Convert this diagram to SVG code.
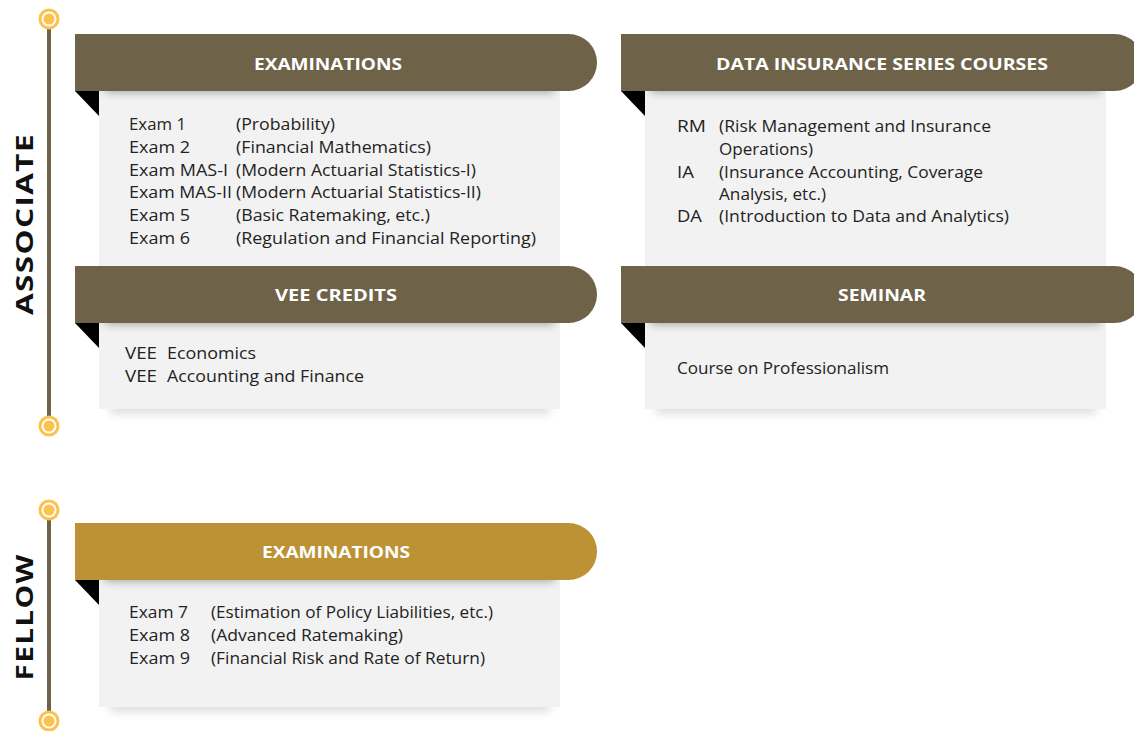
<svg xmlns="http://www.w3.org/2000/svg" width="1134" height="731" viewBox="0 0 1134 731">
<defs>
<style>
.hdr{fill:#6e6249}
.gold{fill:#bd9235}
.box{fill:#f2f2f2}
.fold{fill:#000}
.ht{font-family:"Open Sans","Liberation Sans",sans-serif;font-weight:700;font-size:16.5px;fill:#fff;text-anchor:middle}
.bt{font-family:"Open Sans","Liberation Sans",sans-serif;font-size:15.5px;fill:#222}
.side{font-family:"Open Sans","Liberation Sans",sans-serif;font-weight:700;font-size:23px;fill:#111;text-anchor:middle;letter-spacing:1px}
.ring{fill:#fcc24c}
.dot{fill:#fcc24c}
</style>
<filter id="blur" x="-20%" y="-100%" width="140%" height="300%"><feGaussianBlur stdDeviation="5"/></filter>
<filter id="blur2" x="-20%" y="-100%" width="140%" height="300%"><feGaussianBlur stdDeviation="5"/></filter>
<clipPath id="c1"><rect x="99" y="91" width="461" height="175"/></clipPath>
<clipPath id="c2"><rect x="645" y="91" width="461" height="175"/></clipPath>
<clipPath id="c3"><rect x="99" y="323" width="461" height="86"/></clipPath>
<clipPath id="c4"><rect x="645" y="323" width="461" height="86"/></clipPath>
<clipPath id="c5"><rect x="99" y="580" width="461" height="127"/></clipPath>
<clipPath id="cb1"><rect x="90" y="409" width="480" height="20"/></clipPath>
<clipPath id="cb2"><rect x="636" y="409" width="480" height="20"/></clipPath>
<clipPath id="cb3"><rect x="90" y="707" width="480" height="20"/></clipPath>
</defs>
<rect width="1134" height="731" fill="#fff"/>

<g id="connectors">
<line x1="49" y1="29" x2="49" y2="416" stroke="#6e6249" stroke-width="4"/>
<line x1="49" y1="520" x2="49" y2="711" stroke="#6e6249" stroke-width="4"/>
</g>

<g id="timeline-markers">
<g><circle cx="49" cy="19" r="10.5" class="ring"/><circle cx="49" cy="19" r="7.5" fill="#fff"/><circle cx="49" cy="19" r="5.5" class="dot"/></g>
<g><circle cx="49" cy="426" r="10.5" class="ring"/><circle cx="49" cy="426" r="7.5" fill="#fff"/><circle cx="49" cy="426" r="5.5" class="dot"/></g>
<g><circle cx="49" cy="510" r="10.5" class="ring"/><circle cx="49" cy="510" r="7.5" fill="#fff"/><circle cx="49" cy="510" r="5.5" class="dot"/></g>
<g><circle cx="49" cy="721" r="10.5" class="ring"/><circle cx="49" cy="721" r="7.5" fill="#fff"/><circle cx="49" cy="721" r="5.5" class="dot"/></g>
</g>

<g id="label-associate"><text class="side" transform="translate(33,224) rotate(-90)" textLength="182" lengthAdjust="spacingAndGlyphs">ASSOCIATE</text></g>
<g id="label-fellow"><text class="side" transform="translate(33,617) rotate(-90)" textLength="127" lengthAdjust="spacingAndGlyphs">FELLOW</text></g>

<g id="assoc-exams">
<rect x="99" y="91" width="461" height="180" class="box"/>
<rect x="105" y="80" width="449" height="12" fill="#000" opacity="0.35" filter="url(#blur)" clip-path="url(#c1)"/>
<path d="M75 34 H568.5 A28.5 28.5 0 0 1 568.5 91 H75 Z" class="hdr"/>
<polygon points="75,91 99,91 99,116" class="fold"/>
<text class="ht" x="328" y="70" textLength="148" lengthAdjust="spacingAndGlyphs">EXAMINATIONS</text>
<g class="bt">
<text x="129" y="130" textLength="57" lengthAdjust="spacingAndGlyphs">Exam 1</text><text x="236" y="130" textLength="99" lengthAdjust="spacingAndGlyphs">(Probability)</text>
<text x="129" y="152.8" textLength="61" lengthAdjust="spacingAndGlyphs">Exam 2</text><text x="236" y="152.8" textLength="195" lengthAdjust="spacingAndGlyphs">(Financial Mathematics)</text>
<text x="129" y="175.6" textLength="99" lengthAdjust="spacingAndGlyphs">Exam MAS-I</text><text x="236" y="175.6" textLength="240" lengthAdjust="spacingAndGlyphs">(Modern Actuarial Statistics-I)</text>
<text x="129" y="198.4" textLength="103" lengthAdjust="spacingAndGlyphs">Exam MAS-II</text><text x="236" y="198.4" textLength="245" lengthAdjust="spacingAndGlyphs">(Modern Actuarial Statistics-II)</text>
<text x="129" y="221.2" textLength="61" lengthAdjust="spacingAndGlyphs">Exam 5</text><text x="236" y="221.2" textLength="194" lengthAdjust="spacingAndGlyphs">(Basic Ratemaking, etc.)</text>
<text x="129" y="244" textLength="61" lengthAdjust="spacingAndGlyphs">Exam 6</text><text x="236" y="244" textLength="300" lengthAdjust="spacingAndGlyphs">(Regulation and Financial Reporting)</text>
</g>
</g>

<g id="assoc-data">
<rect x="645" y="91" width="461" height="180" class="box"/>
<rect x="651" y="80" width="449" height="12" fill="#000" opacity="0.35" filter="url(#blur)" clip-path="url(#c2)"/>
<path d="M621 34 H1114.5 A28.5 28.5 0 0 1 1114.5 91 H621 Z" class="hdr"/>
<polygon points="621,91 645,91 645,116" class="fold"/>
<text class="ht" x="882" y="70" textLength="332" lengthAdjust="spacingAndGlyphs">DATA INSURANCE SERIES COURSES</text>
<g class="bt">
<text x="677" y="131.5" textLength="29" lengthAdjust="spacingAndGlyphs">RM</text><text x="719" y="131.5" textLength="272" lengthAdjust="spacingAndGlyphs">(Risk Management and Insurance</text>
<text x="719" y="154.5" textLength="94" lengthAdjust="spacingAndGlyphs">Operations)</text>
<text x="677" y="177.5" textLength="17" lengthAdjust="spacingAndGlyphs">IA</text><text x="719" y="177.5" textLength="264" lengthAdjust="spacingAndGlyphs">(Insurance Accounting, Coverage</text>
<text x="719" y="199.5" textLength="107" lengthAdjust="spacingAndGlyphs">Analysis, etc.)</text>
<text x="677" y="221.5" textLength="25" lengthAdjust="spacingAndGlyphs">DA</text><text x="719" y="221.5" textLength="290" lengthAdjust="spacingAndGlyphs">(Introduction to Data and Analytics)</text>
</g>
</g>

<g id="assoc-vee">
<rect x="110" y="400" width="440" height="14" fill="#000" opacity="0.13" filter="url(#blur2)" clip-path="url(#cb1)"/>
<rect x="99" y="323" width="461" height="86" class="box"/>
<rect x="105" y="312" width="449" height="12" fill="#000" opacity="0.35" filter="url(#blur)" clip-path="url(#c3)"/>
<path d="M75 266 H568.5 A28.5 28.5 0 0 1 568.5 323 H75 Z" class="hdr"/>
<polygon points="75,323 99,323 99,348" class="fold"/>
<text class="ht" x="336" y="301" textLength="122" lengthAdjust="spacingAndGlyphs">VEE CREDITS</text>
<g class="bt">
<text x="125" y="358.5" textLength="32" lengthAdjust="spacingAndGlyphs">VEE</text><text x="167" y="358.5" textLength="89" lengthAdjust="spacingAndGlyphs">Economics</text>
<text x="125" y="381.5" textLength="32" lengthAdjust="spacingAndGlyphs">VEE</text><text x="167" y="381.5" textLength="197" lengthAdjust="spacingAndGlyphs">Accounting and Finance</text>
</g>
</g>

<g id="assoc-seminar">
<rect x="656" y="400" width="440" height="14" fill="#000" opacity="0.13" filter="url(#blur2)" clip-path="url(#cb2)"/>
<rect x="645" y="323" width="461" height="86" class="box"/>
<rect x="651" y="312" width="449" height="12" fill="#000" opacity="0.35" filter="url(#blur)" clip-path="url(#c4)"/>
<path d="M621 266 H1114.5 A28.5 28.5 0 0 1 1114.5 323 H621 Z" class="hdr"/>
<polygon points="621,323 645,323 645,348" class="fold"/>
<text class="ht" x="882" y="301" textLength="88" lengthAdjust="spacingAndGlyphs">SEMINAR</text>
<g class="bt">
<text x="677" y="373.5" textLength="212" lengthAdjust="spacingAndGlyphs">Course on Professionalism</text>
</g>
</g>

<g id="fellow-exams">
<rect x="110" y="698" width="440" height="14" fill="#000" opacity="0.13" filter="url(#blur2)" clip-path="url(#cb3)"/>
<rect x="99" y="580" width="461" height="127" class="box"/>
<rect x="105" y="569" width="449" height="12" fill="#000" opacity="0.35" filter="url(#blur)" clip-path="url(#c5)"/>
<path d="M75 523 H568.5 A28.5 28.5 0 0 1 568.5 580 H75 Z" class="gold"/>
<polygon points="75,580 99,580 99,605" class="fold"/>
<text class="ht" x="336" y="558" textLength="148" lengthAdjust="spacingAndGlyphs">EXAMINATIONS</text>
<g class="bt">
<text x="129" y="617.5" textLength="59" lengthAdjust="spacingAndGlyphs">Exam 7</text><text x="211" y="617.5" textLength="282" lengthAdjust="spacingAndGlyphs">(Estimation of Policy Liabilities, etc.)</text>
<text x="129" y="640.5" textLength="61" lengthAdjust="spacingAndGlyphs">Exam 8</text><text x="211" y="640.5" textLength="192" lengthAdjust="spacingAndGlyphs">(Advanced Ratemaking)</text>
<text x="129" y="663.5" textLength="61" lengthAdjust="spacingAndGlyphs">Exam 9</text><text x="211" y="663.5" textLength="274" lengthAdjust="spacingAndGlyphs">(Financial Risk and Rate of Return)</text>
</g>
</g>
</svg>
